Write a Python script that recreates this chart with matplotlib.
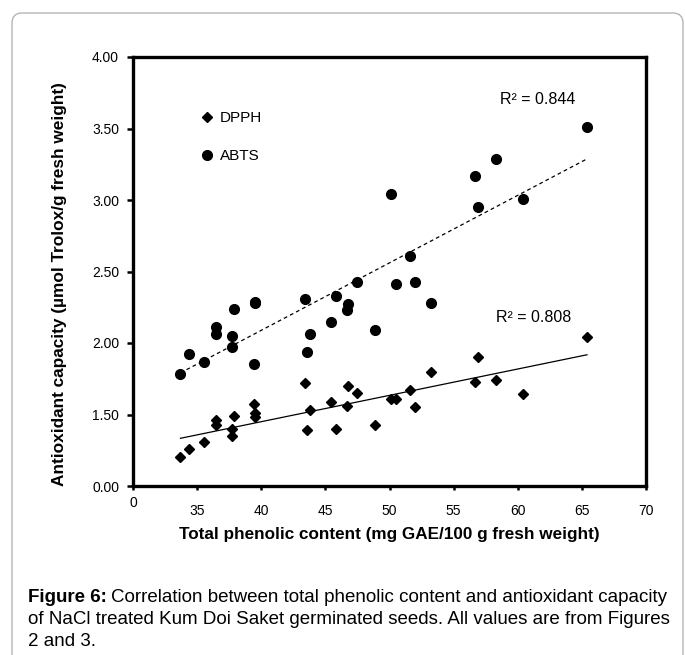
import numpy as np
import matplotlib.pyplot as plt
import matplotlib.patches as mpatches
from matplotlib.transforms import IdentityTransform
from matplotlib.lines import Line2D

plt.rcParams['font.family'] = ['Liberation Sans', 'DejaVu Sans']

# Total phenolic content (x) shared by both assays
phenolic = np.array([33.7, 34.4, 35.5, 36.5, 36.5, 37.7, 37.7, 37.9, 39.4, 39.5,
                     39.5, 43.4, 43.6, 43.8, 45.4, 45.8, 46.7, 46.8, 47.5, 48.9,
                     50.1, 50.5, 51.6, 52.0, 53.2, 56.7, 56.9, 58.3, 60.4, 65.4])
dpph = np.array([1.20, 1.26, 1.31, 1.46, 1.43, 1.40, 1.35, 1.49, 1.57, 1.51,
                 1.48, 1.72, 1.39, 1.53, 1.59, 1.40, 1.56, 1.70, 1.65, 1.43,
                 1.61, 1.61, 1.67, 1.55, 1.80, 1.73, 1.90, 1.74, 1.64, 2.04])
abts = np.array([1.78, 1.92, 1.87, 2.11, 2.06, 2.05, 1.97, 2.24, 1.85, 2.29,
                 2.28, 2.31, 1.94, 2.06, 2.15, 2.33, 2.23, 2.27, 2.43, 2.09,
                 3.04, 2.41, 2.61, 2.43, 2.28, 3.17, 2.95, 3.29, 3.01, 3.51])

xticks = [30, 35, 40, 45, 50, 55, 60, 65, 70]
xticklabels = ['', '35', '40', '45', '50', '55', '60', '65', '70']
yticks = [1.0, 1.5, 2.0, 2.5, 3.0, 3.5, 4.0]
yticklabels = ['0.00', '1.50', '2.00', '2.50', '3.00', '3.50', '4.00']

W, H = 685, 655
fig = plt.figure(figsize=(W / 100, H / 100), dpi=100)
ax = fig.add_axes([133 / W, 1 - 486 / H, 513 / W, 429 / H])

# data points
ax.plot(phenolic, dpph, linestyle='none', marker='D', markersize=5.4, color='black')
ax.plot(phenolic, abts, linestyle='none', marker='o', markersize=7.0, color='black')

# linear trend lines
xs = np.array([phenolic.min(), phenolic.max()])
k1, b1 = np.polyfit(phenolic, dpph, 1)
k2, b2 = np.polyfit(phenolic, abts, 1)
ax.plot(xs, k1 * xs + b1, color='black', lw=0.9)
ax.plot(xs, k2 * xs + b2, color='black', lw=0.9, linestyle=(0, (3, 2.5)))

ax.text(58.6, 3.70, 'R² = 0.844', fontsize=11.5, ha='left', va='center')
ax.text(58.3, 2.18, 'R² = 0.808', fontsize=11.5, ha='left', va='center')

ax.set_xlim(30, 70)
ax.set_ylim(1.0, 4.0)
ax.set_xticks(xticks)
ax.set_xticklabels(xticklabels)
ax.set_yticks(yticks)
ax.set_yticklabels(yticklabels)
ax.tick_params(axis='x', direction='out', length=3, width=1.8, pad=10, labelsize=10)
ax.tick_params(axis='y', direction='out', length=4, width=1.8, pad=6, labelsize=10)
ax.annotate('0', xy=(0, 0), xycoords='axes fraction', xytext=(0, -7),
            textcoords='offset points', ha='center', va='top', fontsize=10)
for s in ax.spines.values():
    s.set_linewidth(2.4)

handles = [Line2D([], [], linestyle='none', marker='D', markersize=5.4, color='black'),
           Line2D([], [], linestyle='none', marker='o', markersize=7.0, color='black')]
ax.legend(handles, ['DPPH', 'ABTS'], loc='upper left', bbox_to_anchor=(0.13, 0.873),
          frameon=False, fontsize=11, handlelength=1.0, handletextpad=0.3,
          labelspacing=1.53, borderpad=0, borderaxespad=0)

fig.text(60 / W, 1 - 284 / H, 'Antioxidant capacity (µmol Trolox/g fresh weight)',
         rotation=90, ha='center', va='center', fontsize=12.4, fontweight='bold')
fig.text(389 / W, 1 - 535 / H, 'Total phenolic content (mg GAE/100 g fresh weight)',
         ha='center', va='center', fontsize=12.3, fontweight='bold')

# outer rounded frame
frame = mpatches.FancyBboxPatch((12, -30), 671, H - 13 + 30,
                                boxstyle='round,pad=0,rounding_size=10',
                                transform=IdentityTransform(), fill=False,
                                edgecolor='#b5b5b5', lw=1.0)
fig.patches.append(frame)

# caption
cap_size = 13.5
t = fig.text(28 / W, 1 - 597 / H, 'Figure 6:', fontsize=cap_size, fontweight='bold',
             ha='left', va='center')
fig.canvas.draw()
bb = t.get_window_extent()
fig.text((bb.x1 + 4) / W, 1 - 597 / H,
         'Correlation between total phenolic content and antioxidant capacity',
         fontsize=cap_size, ha='left', va='center')
fig.text(28 / W, 1 - 619 / H,
         'of NaCl treated Kum Doi Saket germinated seeds. All values are from Figures',
         fontsize=cap_size, ha='left', va='center')
fig.text(28 / W, 1 - 641 / H, '2 and 3.', fontsize=cap_size, ha='left', va='center')

fig.savefig('out.png', dpi=100)
